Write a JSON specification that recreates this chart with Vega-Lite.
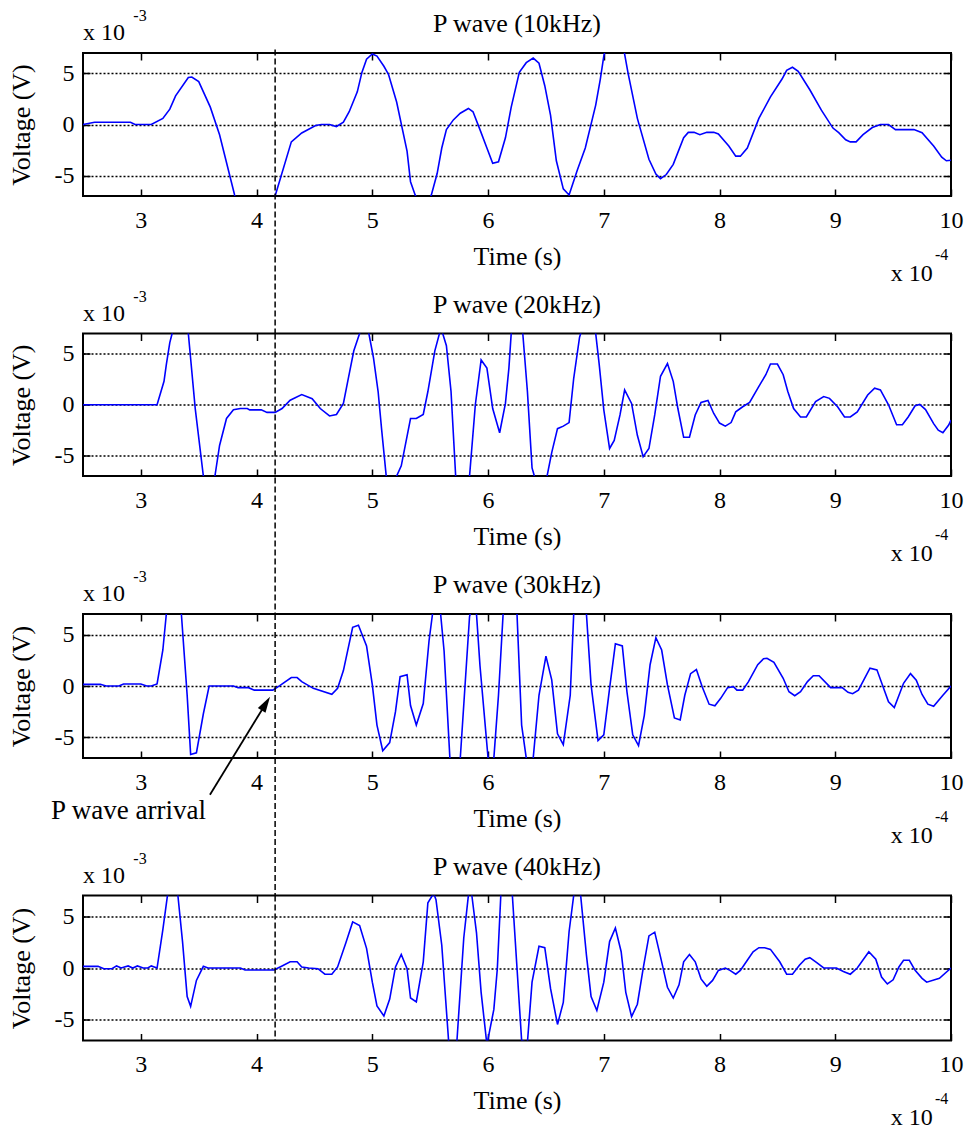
{
  "$schema": "https://vega.github.io/schema/vega-lite/v6.json",
  "background": "#ffffff",
  "padding": {"left": 7, "top": 7, "right": 0, "bottom": 0},
  "spacing": 137.5,
  "bounds": "flush",
  "config": {
    "view": {"stroke": "#000000", "strokeWidth": 2},
    "font": "Liberation Serif, serif",
    "axis": {
      "labelFont": "Liberation Serif, serif", "labelFontSize": 24, "labelColor": "#000000",
      "titleFont": "Liberation Serif, serif", "titleFontSize": 26, "titleFontWeight": "normal", "titleColor": "#000000",
      "tickColor": "#000000", "tickWidth": 1.5, "tickSize": -7, "domain": false, "grid": false,
      "labelPadding": 19, "labelFlush": false, "labelOverlap": false
    }
  },
  "datasets": {
    "arrival": [{"t": 4.16}],
    "p10": [
      {"t":2.5,"v":0},{"t":2.6,"v":0.22},{"t":2.91,"v":0.22},{"t":2.95,"v":0},{"t":3.09,"v":0},{"t":3.19,"v":0.6},{"t":3.25,"v":1.5},{"t":3.3,"v":2.8},{"t":3.41,"v":4.6},{"t":3.44,"v":4.65},{"t":3.5,"v":4.2},{"t":3.6,"v":1.7},{"t":3.68,"v":-1.0},{"t":3.81,"v":-6.9},{"t":3.88,"v":-9.5},{"t":3.99,"v":-11},{"t":4.09,"v":-9.5},{"t":4.16,"v":-7.0},{"t":4.3,"v":-1.7},{"t":4.39,"v":-0.83},{"t":4.51,"v":-0.1},{"t":4.56,"v":0},{"t":4.63,"v":0},{"t":4.69,"v":-0.2},{"t":4.75,"v":0.22},{"t":4.8,"v":1.25},{"t":4.87,"v":3.2},{"t":4.91,"v":5.1},{"t":4.95,"v":6.4},{"t":5.0,"v":6.9},{"t":5.04,"v":6.7},{"t":5.1,"v":5.7},{"t":5.14,"v":4.9},{"t":5.21,"v":2.2},{"t":5.3,"v":-2.6},{"t":5.33,"v":-5.6},{"t":5.37,"v":-6.9},{"t":5.44,"v":-8.5},{"t":5.51,"v":-6.9},{"t":5.56,"v":-4.8},{"t":5.6,"v":-2.3},{"t":5.64,"v":-0.5},{"t":5.7,"v":0.45},{"t":5.76,"v":1.1},{"t":5.83,"v":1.57},{"t":5.87,"v":1.25},{"t":5.93,"v":-0.5},{"t":5.99,"v":-2.3},{"t":6.04,"v":-3.8},{"t":6.09,"v":-3.65},{"t":6.15,"v":-1.3},{"t":6.2,"v":1.7},{"t":6.27,"v":5.1},{"t":6.33,"v":6.05},{"t":6.39,"v":6.5},{"t":6.44,"v":6.0},{"t":6.49,"v":3.8},{"t":6.54,"v":0.9},{"t":6.59,"v":-3.55},{"t":6.65,"v":-6.3},{"t":6.7,"v":-6.9},{"t":6.77,"v":-4.5},{"t":6.84,"v":-2.3},{"t":6.93,"v":1.9},{"t":6.97,"v":4.45},{"t":7.0,"v":6.7},{"t":7.05,"v":9.0},{"t":7.1,"v":9.8},{"t":7.15,"v":9.0},{"t":7.18,"v":6.9},{"t":7.21,"v":5.0},{"t":7.29,"v":0.6},{"t":7.39,"v":-3.4},{"t":7.45,"v":-4.85},{"t":7.49,"v":-5.3},{"t":7.54,"v":-4.9},{"t":7.6,"v":-3.9},{"t":7.69,"v":-1.3},{"t":7.73,"v":-0.77},{"t":7.78,"v":-0.77},{"t":7.83,"v":-1.0},{"t":7.89,"v":-0.77},{"t":7.95,"v":-0.77},{"t":7.99,"v":-0.93},{"t":8.08,"v":-2.1},{"t":8.14,"v":-3.1},{"t":8.18,"v":-3.1},{"t":8.24,"v":-2.3},{"t":8.34,"v":0.6},{"t":8.44,"v":2.7},{"t":8.54,"v":4.45},{"t":8.58,"v":5.3},{"t":8.63,"v":5.6},{"t":8.68,"v":5.2},{"t":8.78,"v":3.4},{"t":8.88,"v":1.4},{"t":8.98,"v":-0.35},{"t":9.03,"v":-0.8},{"t":9.09,"v":-1.5},{"t":9.13,"v":-1.7},{"t":9.18,"v":-1.7},{"t":9.24,"v":-1.0},{"t":9.32,"v":-0.3},{"t":9.39,"v":0},{"t":9.46,"v":0},{"t":9.52,"v":-0.5},{"t":9.68,"v":-0.5},{"t":9.75,"v":-0.8},{"t":9.85,"v":-2.1},{"t":9.92,"v":-3.2},{"t":9.96,"v":-3.55},{"t":10.0,"v":-3.5}
    ],
    "p20": [
      {"t":2.5,"v":0},{"t":3.14,"v":0},{"t":3.2,"v":2.3},{"t":3.22,"v":3.95},{"t":3.25,"v":6.1},{"t":3.27,"v":7.0},{"t":3.31,"v":8.6},{"t":3.34,"v":8.9},{"t":3.38,"v":8.3},{"t":3.41,"v":7.0},{"t":3.47,"v":-0.4},{"t":3.54,"v":-7.0},{"t":3.58,"v":-8.5},{"t":3.61,"v":-8.3},{"t":3.64,"v":-7.0},{"t":3.68,"v":-4.0},{"t":3.74,"v":-1.35},{"t":3.8,"v":-0.5},{"t":3.86,"v":-0.37},{"t":3.92,"v":-0.37},{"t":3.94,"v":-0.5},{"t":4.04,"v":-0.5},{"t":4.09,"v":-0.75},{"t":4.16,"v":-0.75},{"t":4.22,"v":-0.37},{"t":4.29,"v":0.45},{"t":4.39,"v":1.0},{"t":4.48,"v":0.6},{"t":4.55,"v":-0.37},{"t":4.63,"v":-1.1},{"t":4.69,"v":-0.95},{"t":4.75,"v":0.13},{"t":4.79,"v":2.45},{"t":4.84,"v":5.3},{"t":4.89,"v":7.0},{"t":4.93,"v":8.3},{"t":4.97,"v":7.0},{"t":5.01,"v":4.6},{"t":5.05,"v":1.3},{"t":5.08,"v":-2.4},{"t":5.12,"v":-7.0},{"t":5.16,"v":-8.8},{"t":5.21,"v":-7.0},{"t":5.25,"v":-6.0},{"t":5.33,"v":-1.35},{"t":5.38,"v":-1.35},{"t":5.44,"v":-0.95},{"t":5.48,"v":1.3},{"t":5.54,"v":5.3},{"t":5.58,"v":7.0},{"t":5.6,"v":7.3},{"t":5.64,"v":5.8},{"t":5.68,"v":1.3},{"t":5.72,"v":-7.0},{"t":5.77,"v":-9.5},{"t":5.81,"v":-8.5},{"t":5.84,"v":-7.0},{"t":5.89,"v":0},{"t":5.94,"v":4.4},{"t":5.99,"v":3.6},{"t":6.04,"v":-0.37},{"t":6.1,"v":-2.75},{"t":6.15,"v":0.13},{"t":6.18,"v":3.6},{"t":6.2,"v":7.0},{"t":6.24,"v":8.8},{"t":6.27,"v":8.5},{"t":6.3,"v":7.0},{"t":6.34,"v":1.3},{"t":6.38,"v":-6.2},{"t":6.4,"v":-7.0},{"t":6.45,"v":-8.5},{"t":6.51,"v":-7.0},{"t":6.55,"v":-4.7},{"t":6.6,"v":-2.35},{"t":6.65,"v":-2.1},{"t":6.7,"v":-1.75},{"t":6.74,"v":2.6},{"t":6.79,"v":6.6},{"t":6.8,"v":7.0},{"t":6.84,"v":8.3},{"t":6.89,"v":8.3},{"t":6.93,"v":7.0},{"t":6.96,"v":4.0},{"t":7.0,"v":-0.5},{"t":7.05,"v":-4.3},{"t":7.09,"v":-3.5},{"t":7.14,"v":-1.0},{"t":7.18,"v":1.45},{"t":7.24,"v":0.13},{"t":7.29,"v":-3.0},{"t":7.34,"v":-5.1},{"t":7.39,"v":-4.3},{"t":7.44,"v":-1.0},{"t":7.49,"v":2.8},{"t":7.55,"v":4.05},{"t":7.6,"v":2.3},{"t":7.64,"v":-0.37},{"t":7.69,"v":-3.2},{"t":7.74,"v":-3.2},{"t":7.79,"v":-1.0},{"t":7.84,"v":0.23},{"t":7.9,"v":0.43},{"t":7.95,"v":-0.86},{"t":8.0,"v":-1.8},{"t":8.05,"v":-2.1},{"t":8.1,"v":-1.75},{"t":8.14,"v":-0.7},{"t":8.2,"v":-0.2},{"t":8.26,"v":0.23},{"t":8.34,"v":1.8},{"t":8.4,"v":2.95},{"t":8.44,"v":4.0},{"t":8.5,"v":4.0},{"t":8.55,"v":2.95},{"t":8.59,"v":1.3},{"t":8.64,"v":-0.37},{"t":8.7,"v":-1.2},{"t":8.75,"v":-1.2},{"t":8.83,"v":0.3},{"t":8.9,"v":0.8},{"t":8.95,"v":0.63},{"t":9.02,"v":-0.2},{"t":9.08,"v":-1.2},{"t":9.13,"v":-1.2},{"t":9.19,"v":-0.7},{"t":9.28,"v":0.96},{"t":9.34,"v":1.63},{"t":9.39,"v":1.46},{"t":9.46,"v":0},{"t":9.53,"v":-1.96},{"t":9.58,"v":-1.96},{"t":9.63,"v":-1.2},{"t":9.69,"v":-0.1},{"t":9.73,"v":0.03},{"t":9.78,"v":-0.47},{"t":9.85,"v":-1.86},{"t":9.89,"v":-2.5},{"t":9.93,"v":-2.75},{"t":9.98,"v":-2.0},{"t":10.0,"v":-1.5}
    ],
    "p30": [
      {"t":2.5,"v":0.16},{"t":2.65,"v":0.16},{"t":2.7,"v":0},{"t":2.81,"v":0},{"t":2.85,"v":0.2},{"t":3.0,"v":0.2},{"t":3.05,"v":0},{"t":3.09,"v":0},{"t":3.14,"v":0.2},{"t":3.19,"v":3.5},{"t":3.22,"v":7.0},{"t":3.26,"v":8.8},{"t":3.3,"v":9.0},{"t":3.35,"v":7.0},{"t":3.4,"v":-0.9},{"t":3.43,"v":-6.65},{"t":3.48,"v":-6.5},{"t":3.54,"v":-2.7},{"t":3.59,"v":0},{"t":3.8,"v":0},{"t":3.84,"v":-0.16},{"t":3.93,"v":-0.16},{"t":3.98,"v":-0.4},{"t":4.14,"v":-0.4},{"t":4.2,"v":0.03},{"t":4.3,"v":0.82},{"t":4.35,"v":0.82},{"t":4.39,"v":0.43},{"t":4.49,"v":-0.23},{"t":4.65,"v":-0.8},{"t":4.7,"v":-0.23},{"t":4.75,"v":1.5},{"t":4.83,"v":5.7},{"t":4.88,"v":5.9},{"t":4.95,"v":3.9},{"t":5.0,"v":0.1},{"t":5.04,"v":-3.8},{"t":5.09,"v":-6.3},{"t":5.15,"v":-5.5},{"t":5.2,"v":-2.5},{"t":5.24,"v":0.9},{"t":5.3,"v":1.1},{"t":5.33,"v":-1.9},{"t":5.38,"v":-3.8},{"t":5.44,"v":-1.7},{"t":5.49,"v":4.4},{"t":5.52,"v":7.0},{"t":5.55,"v":8.0},{"t":5.59,"v":7.0},{"t":5.62,"v":3.4},{"t":5.67,"v":-7.0},{"t":5.71,"v":-9.0},{"t":5.76,"v":-7.0},{"t":5.84,"v":6.75},{"t":5.87,"v":8.0},{"t":5.9,"v":7.0},{"t":5.93,"v":2.0},{"t":6.0,"v":-7.0},{"t":6.03,"v":-8.5},{"t":6.05,"v":-7.0},{"t":6.09,"v":-0.9},{"t":6.13,"v":7.0},{"t":6.17,"v":9.0},{"t":6.21,"v":9.0},{"t":6.25,"v":7.0},{"t":6.29,"v":-3.8},{"t":6.33,"v":-7.0},{"t":6.36,"v":-8.0},{"t":6.39,"v":-7.0},{"t":6.44,"v":-0.9},{"t":6.5,"v":2.9},{"t":6.55,"v":0.6},{"t":6.6,"v":-4.65},{"t":6.65,"v":-5.7},{"t":6.71,"v":-0.9},{"t":6.74,"v":7.0},{"t":6.79,"v":9.5},{"t":6.85,"v":7.0},{"t":6.89,"v":0.1},{"t":6.95,"v":-5.3},{"t":7.0,"v":-4.75},{"t":7.05,"v":-0.23},{"t":7.1,"v":4.1},{"t":7.16,"v":3.9},{"t":7.2,"v":-0.56},{"t":7.25,"v":-4.75},{"t":7.3,"v":-5.8},{"t":7.35,"v":-2.85},{"t":7.4,"v":2.07},{"t":7.45,"v":4.7},{"t":7.5,"v":3.5},{"t":7.55,"v":0.1},{"t":7.61,"v":-3.1},{"t":7.66,"v":-3.3},{"t":7.7,"v":-0.9},{"t":7.75,"v":1.2},{"t":7.8,"v":1.6},{"t":7.85,"v":-0.07},{"t":7.91,"v":-1.77},{"t":7.96,"v":-1.93},{"t":8.01,"v":-1.2},{"t":8.07,"v":-0.16},{"t":8.12,"v":-0.07},{"t":8.15,"v":-0.4},{"t":8.2,"v":-0.4},{"t":8.25,"v":0.43},{"t":8.33,"v":2.07},{"t":8.38,"v":2.65},{"t":8.41,"v":2.7},{"t":8.47,"v":2.3},{"t":8.55,"v":0.75},{"t":8.6,"v":-0.56},{"t":8.65,"v":-0.95},{"t":8.7,"v":-0.56},{"t":8.76,"v":0.43},{"t":8.81,"v":1.0},{"t":8.86,"v":1.0},{"t":8.96,"v":-0.16},{"t":9.06,"v":-0.16},{"t":9.11,"v":-0.62},{"t":9.15,"v":-0.75},{"t":9.2,"v":-0.4},{"t":9.3,"v":1.74},{"t":9.36,"v":1.57},{"t":9.46,"v":-1.54},{"t":9.51,"v":-2.1},{"t":9.59,"v":0.26},{"t":9.65,"v":1.2},{"t":9.7,"v":0.56},{"t":9.75,"v":-0.82},{"t":9.8,"v":-1.77},{"t":9.85,"v":-1.97},{"t":9.93,"v":-0.9},{"t":10.0,"v":0}
    ],
    "p40": [
      {"t":2.5,"v":0.16},{"t":2.63,"v":0.16},{"t":2.68,"v":-0.07},{"t":2.75,"v":-0.07},{"t":2.79,"v":0.2},{"t":2.83,"v":0},{"t":2.89,"v":0.2},{"t":2.93,"v":0},{"t":2.97,"v":0.2},{"t":3.02,"v":0},{"t":3.06,"v":0},{"t":3.09,"v":0.2},{"t":3.14,"v":0},{"t":3.19,"v":3.7},{"t":3.23,"v":7.0},{"t":3.26,"v":8.5},{"t":3.29,"v":8.6},{"t":3.32,"v":7.0},{"t":3.36,"v":2.55},{"t":3.4,"v":-2.75},{"t":3.43,"v":-3.7},{"t":3.48,"v":-1.2},{"t":3.54,"v":0.16},{"t":3.58,"v":0},{"t":3.86,"v":0},{"t":3.9,"v":-0.2},{"t":4.15,"v":-0.2},{"t":4.22,"v":0.2},{"t":4.29,"v":0.6},{"t":4.35,"v":0.6},{"t":4.39,"v":0.1},{"t":4.45,"v":0},{"t":4.53,"v":-0.07},{"t":4.59,"v":-0.6},{"t":4.65,"v":-0.6},{"t":4.7,"v":0.1},{"t":4.77,"v":2.4},{"t":4.83,"v":4.45},{"t":4.89,"v":4.1},{"t":4.95,"v":1.9},{"t":5.0,"v":-1.37},{"t":5.04,"v":-3.66},{"t":5.1,"v":-4.64},{"t":5.15,"v":-3.0},{"t":5.2,"v":0.1},{"t":5.25,"v":1.3},{"t":5.3,"v":-0.07},{"t":5.33,"v":-2.9},{"t":5.38,"v":-3.27},{"t":5.44,"v":0.6},{"t":5.48,"v":6.3},{"t":5.53,"v":7.2},{"t":5.55,"v":6.6},{"t":5.6,"v":2.2},{"t":5.66,"v":-7.2},{"t":5.69,"v":-8.0},{"t":5.73,"v":-7.2},{"t":5.79,"v":2.9},{"t":5.83,"v":7.0},{"t":5.85,"v":7.8},{"t":5.86,"v":7.0},{"t":5.9,"v":3.4},{"t":5.94,"v":-2.35},{"t":5.99,"v":-7.4},{"t":6.05,"v":-4.0},{"t":6.08,"v":-0.07},{"t":6.11,"v":7.0},{"t":6.14,"v":8.5},{"t":6.18,"v":8.5},{"t":6.21,"v":7.0},{"t":6.25,"v":0},{"t":6.29,"v":-7.0},{"t":6.34,"v":-7.2},{"t":6.38,"v":-1.37},{"t":6.44,"v":2.1},{"t":6.49,"v":1.96},{"t":6.54,"v":-2.0},{"t":6.6,"v":-5.45},{"t":6.65,"v":-3.33},{"t":6.7,"v":3.5},{"t":6.74,"v":7.0},{"t":6.77,"v":8.5},{"t":6.8,"v":7.0},{"t":6.85,"v":1.24},{"t":6.89,"v":-2.75},{"t":6.94,"v":-4.1},{"t":7.0,"v":-1.37},{"t":7.05,"v":2.55},{"t":7.1,"v":3.86},{"t":7.15,"v":1.57},{"t":7.19,"v":-2.35},{"t":7.24,"v":-4.7},{"t":7.29,"v":-3.5},{"t":7.34,"v":-0.07},{"t":7.39,"v":3.1},{"t":7.44,"v":3.46},{"t":7.49,"v":1.08},{"t":7.55,"v":-1.86},{"t":7.6,"v":-2.9},{"t":7.65,"v":-1.63},{"t":7.69,"v":0.6},{"t":7.74,"v":1.3},{"t":7.79,"v":0.6},{"t":7.84,"v":-1.05},{"t":7.89,"v":-1.76},{"t":7.94,"v":-1.2},{"t":7.99,"v":-0.23},{"t":8.05,"v":0},{"t":8.09,"v":-0.23},{"t":8.14,"v":-0.6},{"t":8.18,"v":-0.23},{"t":8.24,"v":0.75},{"t":8.29,"v":1.57},{"t":8.34,"v":1.96},{"t":8.39,"v":1.96},{"t":8.44,"v":1.8},{"t":8.52,"v":0.6},{"t":8.58,"v":-0.6},{"t":8.63,"v":-0.6},{"t":8.69,"v":0.26},{"t":8.74,"v":0.85},{"t":8.78,"v":1.0},{"t":8.84,"v":0.52},{"t":8.9,"v":0},{"t":9.01,"v":0},{"t":9.07,"v":-0.33},{"t":9.13,"v":-0.6},{"t":9.19,"v":0},{"t":9.29,"v":1.57},{"t":9.35,"v":0.85},{"t":9.4,"v":-0.88},{"t":9.45,"v":-1.54},{"t":9.5,"v":-1.14},{"t":9.55,"v":0.1},{"t":9.59,"v":0.75},{"t":9.64,"v":0.75},{"t":9.69,"v":-0.23},{"t":9.75,"v":-1.0},{"t":9.79,"v":-1.37},{"t":9.9,"v":-1.0},{"t":10.0,"v":0}
    ]
  },
  "vconcat": [
    {
      "width": 868, "height": 143,
      "resolve": {"axis": {"x": "independent", "y": "independent"}},
      "layer": [
        {
          "data": {"name": "p10"},
          "mark": {"type": "line", "color": "#0000ff", "strokeWidth": 1.6, "clip": true},
          "encoding": {
            "x": {"field": "t", "type": "quantitative", "scale": {"domain": [2.5, 10], "nice": false, "zero": false},
                  "axis": {"orient": "bottom", "values": [3, 4, 5, 6, 7, 8, 9, 10], "labelFont": "Liberation Serif, serif", "labelFontSize": 24, "title": "Time (s)", "titleFont": "Liberation Serif, serif", "titleFontSize": 26, "titleY": 68.3, "titleBaseline": "alphabetic"}},
            "y": {"field": "v", "type": "quantitative", "scale": {"domain": [-7, 7], "nice": false, "zero": false},
                  "axis": {"orient": "left", "values": [-5, 0, 5], "labelFont": "Liberation Serif, serif", "labelFontSize": 24, "title": "Voltage (V)", "titleFont": "Liberation Serif, serif", "titleFontSize": 26, "grid": true, "gridDash": [2, 2], "gridColor": "#000000", "gridWidth": 1.3, "gridOpacity": 1, "labelPadding": 16, "labelExpr": "replace(datum.label, '\u2212', '-')", "titleX": -54, "titleY": 71.5, "titleAngle": -90, "titleBaseline": "alphabetic", "titleAlign": "center"}}
          }
        },
        {
          "data": {"name": "arrival"},
          "mark": {"type": "rule", "color": "#000000", "strokeWidth": 1.5, "strokeDash": [6, 3], "yOffset": -3.4, "y2Offset": 137.5},
          "encoding": {
            "x": {"field": "t", "type": "quantitative", "scale": {"domain": [2.5, 10], "nice": false, "zero": false},
                  "axis": {"orient": "top", "values": [3, 4, 5, 6, 7, 8, 9, 10], "labels": false, "title": null}},
            "y": {"datum": 7, "type": "quantitative", "scale": {"domain": [-7, 7], "nice": false, "zero": false},
                  "axis": {"orient": "right", "values": [-5, 0, 5], "labels": false, "title": null}},
            "y2": {"datum": -7}
          }
        },
        {
          "data": {"values": [{}]},
          "mark": {"type": "text", "text": "P wave (10kHz)", "align": "center", "baseline": "alphabetic", "font": "Liberation Serif, serif", "fontSize": 26, "dy": -20.7, "color": "#000000"},
          "encoding": {"x": {"datum": 6.25, "type": "quantitative", "axis": null}, "y": {"datum": 7, "type": "quantitative", "axis": null}}
        },
        {
          "data": {"values": [{}]},
          "mark": {"type": "text", "text": "x 10", "align": "left", "baseline": "alphabetic", "font": "Liberation Serif, serif", "fontSize": 24, "dy": -12.7, "color": "#000000"},
          "encoding": {"x": {"datum": 2.5, "type": "quantitative", "axis": null}, "y": {"datum": 7, "type": "quantitative", "axis": null}}
        },
        {
          "data": {"values": [{}]},
          "mark": {"type": "text", "text": "-3", "align": "left", "baseline": "alphabetic", "font": "Liberation Serif, serif", "fontSize": 16, "dx": 50.3, "dy": -31.7, "color": "#000000"},
          "encoding": {"x": {"datum": 2.5, "type": "quantitative", "axis": null}, "y": {"datum": 7, "type": "quantitative", "axis": null}}
        },
        {
          "data": {"values": [{}]},
          "mark": {"type": "text", "text": "x 10", "align": "right", "baseline": "alphabetic", "font": "Liberation Serif, serif", "fontSize": 24, "dx": -18.3, "dy": 84.6, "color": "#000000"},
          "encoding": {"x": {"datum": 10, "type": "quantitative", "axis": null}, "y": {"datum": -7, "type": "quantitative", "axis": null}}
        },
        {
          "data": {"values": [{}]},
          "mark": {"type": "text", "text": "-4", "align": "right", "baseline": "alphabetic", "font": "Liberation Serif, serif", "fontSize": 16, "dx": -2.7, "dy": 63.6, "color": "#000000"},
          "encoding": {"x": {"datum": 10, "type": "quantitative", "axis": null}, "y": {"datum": -7, "type": "quantitative", "axis": null}}
        }
      ]
    },
    {
      "width": 868, "height": 142.5,
      "resolve": {"axis": {"x": "independent", "y": "independent"}},
      "layer": [
        {
          "data": {"name": "p20"},
          "mark": {"type": "line", "color": "#0000ff", "strokeWidth": 1.6, "clip": true},
          "encoding": {
            "x": {"field": "t", "type": "quantitative", "scale": {"domain": [2.5, 10], "nice": false, "zero": false},
                  "axis": {"orient": "bottom", "values": [3, 4, 5, 6, 7, 8, 9, 10], "labelFont": "Liberation Serif, serif", "labelFontSize": 24, "title": "Time (s)", "titleFont": "Liberation Serif, serif", "titleFontSize": 26, "titleY": 68.3, "titleBaseline": "alphabetic"}},
            "y": {"field": "v", "type": "quantitative", "scale": {"domain": [-7, 7], "nice": false, "zero": false},
                  "axis": {"orient": "left", "values": [-5, 0, 5], "labelFont": "Liberation Serif, serif", "labelFontSize": 24, "title": "Voltage (V)", "titleFont": "Liberation Serif, serif", "titleFontSize": 26, "grid": true, "gridDash": [2, 2], "gridColor": "#000000", "gridWidth": 1.3, "gridOpacity": 1, "labelPadding": 16, "labelExpr": "replace(datum.label, '\u2212', '-')", "titleX": -54, "titleY": 71.25, "titleAngle": -90, "titleBaseline": "alphabetic", "titleAlign": "center"}}
          }
        },
        {
          "data": {"name": "arrival"},
          "mark": {"type": "rule", "color": "#000000", "strokeWidth": 1.5, "strokeDash": [6, 3], "y2Offset": 137.5},
          "encoding": {
            "x": {"field": "t", "type": "quantitative", "scale": {"domain": [2.5, 10], "nice": false, "zero": false},
                  "axis": {"orient": "top", "values": [3, 4, 5, 6, 7, 8, 9, 10], "labels": false, "title": null}},
            "y": {"datum": 7, "type": "quantitative", "scale": {"domain": [-7, 7], "nice": false, "zero": false},
                  "axis": {"orient": "right", "values": [-5, 0, 5], "labels": false, "title": null}},
            "y2": {"datum": -7}
          }
        },
        {
          "data": {"values": [{}]},
          "mark": {"type": "text", "text": "P wave (20kHz)", "align": "center", "baseline": "alphabetic", "font": "Liberation Serif, serif", "fontSize": 26, "dy": -20.7, "color": "#000000"},
          "encoding": {"x": {"datum": 6.25, "type": "quantitative", "axis": null}, "y": {"datum": 7, "type": "quantitative", "axis": null}}
        },
        {
          "data": {"values": [{}]},
          "mark": {"type": "text", "text": "x 10", "align": "left", "baseline": "alphabetic", "font": "Liberation Serif, serif", "fontSize": 24, "dy": -12.7, "color": "#000000"},
          "encoding": {"x": {"datum": 2.5, "type": "quantitative", "axis": null}, "y": {"datum": 7, "type": "quantitative", "axis": null}}
        },
        {
          "data": {"values": [{}]},
          "mark": {"type": "text", "text": "-3", "align": "left", "baseline": "alphabetic", "font": "Liberation Serif, serif", "fontSize": 16, "dx": 50.3, "dy": -31.7, "color": "#000000"},
          "encoding": {"x": {"datum": 2.5, "type": "quantitative", "axis": null}, "y": {"datum": 7, "type": "quantitative", "axis": null}}
        },
        {
          "data": {"values": [{}]},
          "mark": {"type": "text", "text": "x 10", "align": "right", "baseline": "alphabetic", "font": "Liberation Serif, serif", "fontSize": 24, "dx": -18.3, "dy": 84.6, "color": "#000000"},
          "encoding": {"x": {"datum": 10, "type": "quantitative", "axis": null}, "y": {"datum": -7, "type": "quantitative", "axis": null}}
        },
        {
          "data": {"values": [{}]},
          "mark": {"type": "text", "text": "-4", "align": "right", "baseline": "alphabetic", "font": "Liberation Serif, serif", "fontSize": 16, "dx": -2.7, "dy": 63.6, "color": "#000000"},
          "encoding": {"x": {"datum": 10, "type": "quantitative", "axis": null}, "y": {"datum": -7, "type": "quantitative", "axis": null}}
        }
      ]
    },
    {
      "width": 868, "height": 144,
      "resolve": {"axis": {"x": "independent", "y": "independent"}},
      "layer": [
        {
          "data": {"name": "p30"},
          "mark": {"type": "line", "color": "#0000ff", "strokeWidth": 1.6, "clip": true},
          "encoding": {
            "x": {"field": "t", "type": "quantitative", "scale": {"domain": [2.5, 10], "nice": false, "zero": false},
                  "axis": {"orient": "bottom", "values": [3, 4, 5, 6, 7, 8, 9, 10], "labelFont": "Liberation Serif, serif", "labelFontSize": 24, "title": "Time (s)", "titleFont": "Liberation Serif, serif", "titleFontSize": 26, "titleY": 68.3, "titleBaseline": "alphabetic"}},
            "y": {"field": "v", "type": "quantitative", "scale": {"domain": [-7, 7], "nice": false, "zero": false},
                  "axis": {"orient": "left", "values": [-5, 0, 5], "labelFont": "Liberation Serif, serif", "labelFontSize": 24, "title": "Voltage (V)", "titleFont": "Liberation Serif, serif", "titleFontSize": 26, "grid": true, "gridDash": [2, 2], "gridColor": "#000000", "gridWidth": 1.3, "gridOpacity": 1, "labelPadding": 16, "labelExpr": "replace(datum.label, '\u2212', '-')", "titleX": -54, "titleY": 72, "titleAngle": -90, "titleBaseline": "alphabetic", "titleAlign": "center"}}
          }
        },
        {
          "data": {"name": "arrival"},
          "mark": {"type": "rule", "color": "#000000", "strokeWidth": 1.5, "strokeDash": [6, 3], "y2Offset": 137.5},
          "encoding": {
            "x": {"field": "t", "type": "quantitative", "scale": {"domain": [2.5, 10], "nice": false, "zero": false},
                  "axis": {"orient": "top", "values": [3, 4, 5, 6, 7, 8, 9, 10], "labels": false, "title": null}},
            "y": {"datum": 7, "type": "quantitative", "scale": {"domain": [-7, 7], "nice": false, "zero": false},
                  "axis": {"orient": "right", "values": [-5, 0, 5], "labels": false, "title": null}},
            "y2": {"datum": -7}
          }
        },
        {
          "data": {"values": [{}]},
          "mark": {"type": "rule", "color": "#000000", "strokeWidth": 1.8},
          "encoding": {
            "x": {"datum": 3.597, "type": "quantitative", "axis": null}, "y": {"datum": -10.57, "type": "quantitative", "axis": null},
            "x2": {"datum": 4.08}, "y2": {"datum": -1.7}
          }
        },
        {
          "data": {"values": [{}]},
          "mark": {"type": "point", "shape": "M0,0L-0.28,1L0.28,1Z", "size": 1024, "angle": 31.5, "filled": true, "color": "#000000", "opacity": 1, "strokeWidth": 0},
          "encoding": {"x": {"datum": 4.116, "type": "quantitative", "axis": null}, "y": {"datum": -1.05, "type": "quantitative", "axis": null}}
        },
        {
          "data": {"values": [{}]},
          "mark": {"type": "text", "text": "P wave arrival", "align": "right", "baseline": "alphabetic", "font": "Liberation Serif, serif", "fontSize": 27, "dx": -4, "dy": 24, "color": "#000000"},
          "encoding": {"x": {"datum": 3.597, "type": "quantitative", "axis": null}, "y": {"datum": -10.57, "type": "quantitative", "axis": null}}
        },
        {
          "data": {"values": [{}]},
          "mark": {"type": "text", "text": "P wave (30kHz)", "align": "center", "baseline": "alphabetic", "font": "Liberation Serif, serif", "fontSize": 26, "dy": -20.7, "color": "#000000"},
          "encoding": {"x": {"datum": 6.25, "type": "quantitative", "axis": null}, "y": {"datum": 7, "type": "quantitative", "axis": null}}
        },
        {
          "data": {"values": [{}]},
          "mark": {"type": "text", "text": "x 10", "align": "left", "baseline": "alphabetic", "font": "Liberation Serif, serif", "fontSize": 24, "dy": -12.7, "color": "#000000"},
          "encoding": {"x": {"datum": 2.5, "type": "quantitative", "axis": null}, "y": {"datum": 7, "type": "quantitative", "axis": null}}
        },
        {
          "data": {"values": [{}]},
          "mark": {"type": "text", "text": "-3", "align": "left", "baseline": "alphabetic", "font": "Liberation Serif, serif", "fontSize": 16, "dx": 50.3, "dy": -31.7, "color": "#000000"},
          "encoding": {"x": {"datum": 2.5, "type": "quantitative", "axis": null}, "y": {"datum": 7, "type": "quantitative", "axis": null}}
        },
        {
          "data": {"values": [{}]},
          "mark": {"type": "text", "text": "x 10", "align": "right", "baseline": "alphabetic", "font": "Liberation Serif, serif", "fontSize": 24, "dx": -18.3, "dy": 84.6, "color": "#000000"},
          "encoding": {"x": {"datum": 10, "type": "quantitative", "axis": null}, "y": {"datum": -7, "type": "quantitative", "axis": null}}
        },
        {
          "data": {"values": [{}]},
          "mark": {"type": "text", "text": "-4", "align": "right", "baseline": "alphabetic", "font": "Liberation Serif, serif", "fontSize": 16, "dx": -2.7, "dy": 63.6, "color": "#000000"},
          "encoding": {"x": {"datum": 10, "type": "quantitative", "axis": null}, "y": {"datum": -7, "type": "quantitative", "axis": null}}
        }
      ]
    },
    {
      "width": 868, "height": 145,
      "resolve": {"axis": {"x": "independent", "y": "independent"}},
      "layer": [
        {
          "data": {"name": "p40"},
          "mark": {"type": "line", "color": "#0000ff", "strokeWidth": 1.6, "clip": true},
          "encoding": {
            "x": {"field": "t", "type": "quantitative", "scale": {"domain": [2.5, 10], "nice": false, "zero": false},
                  "axis": {"orient": "bottom", "values": [3, 4, 5, 6, 7, 8, 9, 10], "labelFont": "Liberation Serif, serif", "labelFontSize": 24, "title": "Time (s)", "titleFont": "Liberation Serif, serif", "titleFontSize": 26, "titleY": 68.3, "titleBaseline": "alphabetic"}},
            "y": {"field": "v", "type": "quantitative", "scale": {"domain": [-7, 7], "nice": false, "zero": false},
                  "axis": {"orient": "left", "values": [-5, 0, 5], "labelFont": "Liberation Serif, serif", "labelFontSize": 24, "title": "Voltage (V)", "titleFont": "Liberation Serif, serif", "titleFontSize": 26, "grid": true, "gridDash": [2, 2], "gridColor": "#000000", "gridWidth": 1.3, "gridOpacity": 1, "labelPadding": 16, "labelExpr": "replace(datum.label, '\u2212', '-')", "titleX": -54, "titleY": 72.5, "titleAngle": -90, "titleBaseline": "alphabetic", "titleAlign": "center"}}
          }
        },
        {
          "data": {"name": "arrival"},
          "mark": {"type": "rule", "color": "#000000", "strokeWidth": 1.5, "strokeDash": [6, 3]},
          "encoding": {
            "x": {"field": "t", "type": "quantitative", "scale": {"domain": [2.5, 10], "nice": false, "zero": false},
                  "axis": {"orient": "top", "values": [3, 4, 5, 6, 7, 8, 9, 10], "labels": false, "title": null}},
            "y": {"datum": 7, "type": "quantitative", "scale": {"domain": [-7, 7], "nice": false, "zero": false},
                  "axis": {"orient": "right", "values": [-5, 0, 5], "labels": false, "title": null}},
            "y2": {"datum": -7}
          }
        },
        {
          "data": {"values": [{}]},
          "mark": {"type": "text", "text": "P wave (40kHz)", "align": "center", "baseline": "alphabetic", "font": "Liberation Serif, serif", "fontSize": 26, "dy": -20.7, "color": "#000000"},
          "encoding": {"x": {"datum": 6.25, "type": "quantitative", "axis": null}, "y": {"datum": 7, "type": "quantitative", "axis": null}}
        },
        {
          "data": {"values": [{}]},
          "mark": {"type": "text", "text": "x 10", "align": "left", "baseline": "alphabetic", "font": "Liberation Serif, serif", "fontSize": 24, "dy": -12.7, "color": "#000000"},
          "encoding": {"x": {"datum": 2.5, "type": "quantitative", "axis": null}, "y": {"datum": 7, "type": "quantitative", "axis": null}}
        },
        {
          "data": {"values": [{}]},
          "mark": {"type": "text", "text": "-3", "align": "left", "baseline": "alphabetic", "font": "Liberation Serif, serif", "fontSize": 16, "dx": 50.3, "dy": -31.7, "color": "#000000"},
          "encoding": {"x": {"datum": 2.5, "type": "quantitative", "axis": null}, "y": {"datum": 7, "type": "quantitative", "axis": null}}
        },
        {
          "data": {"values": [{}]},
          "mark": {"type": "text", "text": "x 10", "align": "right", "baseline": "alphabetic", "font": "Liberation Serif, serif", "fontSize": 24, "dx": -18.3, "dy": 84.6, "color": "#000000"},
          "encoding": {"x": {"datum": 10, "type": "quantitative", "axis": null}, "y": {"datum": -7, "type": "quantitative", "axis": null}}
        },
        {
          "data": {"values": [{}]},
          "mark": {"type": "text", "text": "-4", "align": "right", "baseline": "alphabetic", "font": "Liberation Serif, serif", "fontSize": 16, "dx": -2.7, "dy": 63.6, "color": "#000000"},
          "encoding": {"x": {"datum": 10, "type": "quantitative", "axis": null}, "y": {"datum": -7, "type": "quantitative", "axis": null}}
        }
      ]
    }
  ]
}
